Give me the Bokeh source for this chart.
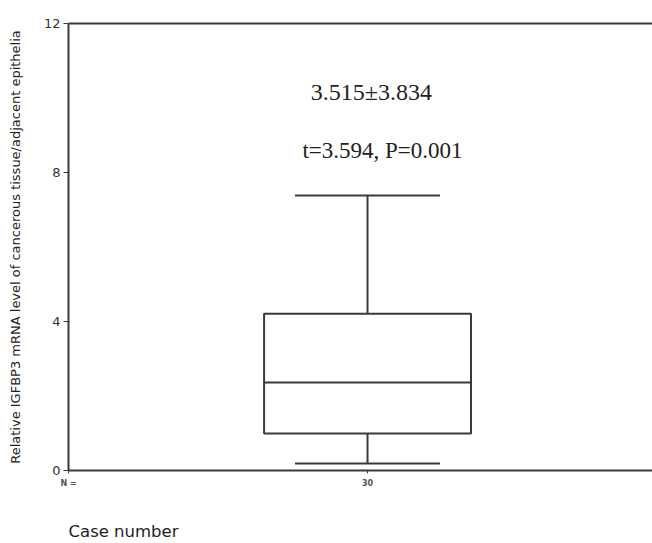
from bokeh.plotting import figure
from bokeh.models import Range1d, LinearAxis, FixedTicker, Label, ColumnDataSource
from bokeh.embed import file_html
from bokeh.resources import INLINE

# data
group_x = [1.0]
group_n = ["30"]
whisk_low = [0.19]
q1 = [0.99]
median = [2.36]
q3 = [4.21]
whisk_high = [7.38]
y_ticks = [0, 4, 8, 12]
stat_lines = ["3.515\u00b13.834", "t=3.594, P=0.001"]
x_title = "Case number"
x_title_pos = 0.184

box_half = 0.346
cap_half = 0.2425
line_col = "#3a3a3a"

p = figure(width=652, height=543, output_backend="svg", toolbar_location=None,
           x_range=Range1d(0, 1.953), y_range=Range1d(0, 12),
           min_border_left=68, min_border_right=0, min_border_top=23, min_border_bottom=73)
p.outline_line_color = None
p.xgrid.visible = False
p.ygrid.visible = False
p.background_fill_color = "white"

src = ColumnDataSource(dict(x=group_x, lo=whisk_low, q1=q1, med=median, q3=q3, hi=whisk_high,
                            l=[x - box_half for x in group_x], r=[x + box_half for x in group_x],
                            cl=[x - cap_half for x in group_x], cr=[x + cap_half for x in group_x]))
# whiskers
p.segment(x0="x", y0="q3", x1="x", y1="hi", source=src, line_color=line_col, line_width=2)
p.segment(x0="x", y0="lo", x1="x", y1="q1", source=src, line_color=line_col, line_width=2)
p.segment(x0="cl", y0="hi", x1="cr", y1="hi", source=src, line_color=line_col, line_width=2)
p.segment(x0="cl", y0="lo", x1="cr", y1="lo", source=src, line_color=line_col, line_width=2)
# box
p.quad(left="l", right="r", bottom="q1", top="q3", source=src, fill_color="white",
       line_color=line_col, line_width=2)
p.segment(x0="l", y0="med", x1="r", y1="med", source=src, line_color=line_col, line_width=2)

# axes
ya = p.yaxis[0]
ya.ticker = FixedTicker(ticks=y_ticks)
ya.minor_tick_line_color = None
ya.major_tick_in = 0
ya.major_tick_out = 5
ya.major_label_standoff = 3
ya.major_label_text_font = "DejaVu Sans"
ya.major_label_text_font_size = "13px"
ya.major_label_text_color = "#333333"
ya.axis_line_width = 2
ya.axis_line_color = line_col
ya.major_tick_line_color = line_col
ya.axis_label = "Relative IGFBP3 mRNA level of cancerous tissue/adjacent epithelia"
ya.axis_label_text_font = "DejaVu Sans"
ya.axis_label_text_font_style = "normal"
ya.axis_label_text_font_size = "13px"
ya.axis_label_text_color = "#222222"
ya.axis_label_standoff = 18

xa = p.xaxis[0]
xa.ticker = FixedTicker(ticks=[0.0] + group_x)
xa.major_label_overrides = {0.0: "N =", group_x[0]: group_n[0]}
xa.minor_tick_line_color = None
xa.major_tick_in = 0
xa.major_tick_out = 3
xa.major_label_standoff = 5
xa.major_label_text_font = "DejaVu Sans"
xa.major_label_text_font_size = "8px"
xa.major_label_text_font_style = "bold"
xa.major_label_text_color = "#555555"
xa.axis_line_width = 2
xa.axis_line_color = line_col
xa.major_tick_line_color = line_col

# second below axis used only to carry the "Case number" caption
cap_axis = LinearAxis(ticker=FixedTicker(ticks=[x_title_pos]),
                      major_label_overrides={x_title_pos: x_title},
                      axis_line_color=None, major_tick_line_color=None, minor_tick_line_color=None,
                      major_tick_in=0, major_tick_out=0, major_label_standoff=31,
                      major_label_text_font="DejaVu Sans", major_label_text_font_size="16.5px",
                      major_label_text_color="#222222")
p.add_layout(cap_axis, "below")

top = LinearAxis(ticker=FixedTicker(ticks=[]), axis_line_width=2, axis_line_color=line_col,
                 major_label_text_font_size="0px", minor_tick_line_color=None, major_tick_line_color=None)
p.add_layout(top, "above")

# texts
p.add_layout(Label(x=1.013, y=10.15, text=stat_lines[0], text_font="Liberation Serif",
                   text_font_size="24px", text_align="center", text_baseline="middle", text_color="#222222"))
p.add_layout(Label(x=1.05, y=8.59, text=stat_lines[1], text_font="Liberation Serif",
                   text_font_size="23px", text_align="center", text_baseline="middle", text_color="#222222"))

open("out.html", "w").write(file_html(p, INLINE))
